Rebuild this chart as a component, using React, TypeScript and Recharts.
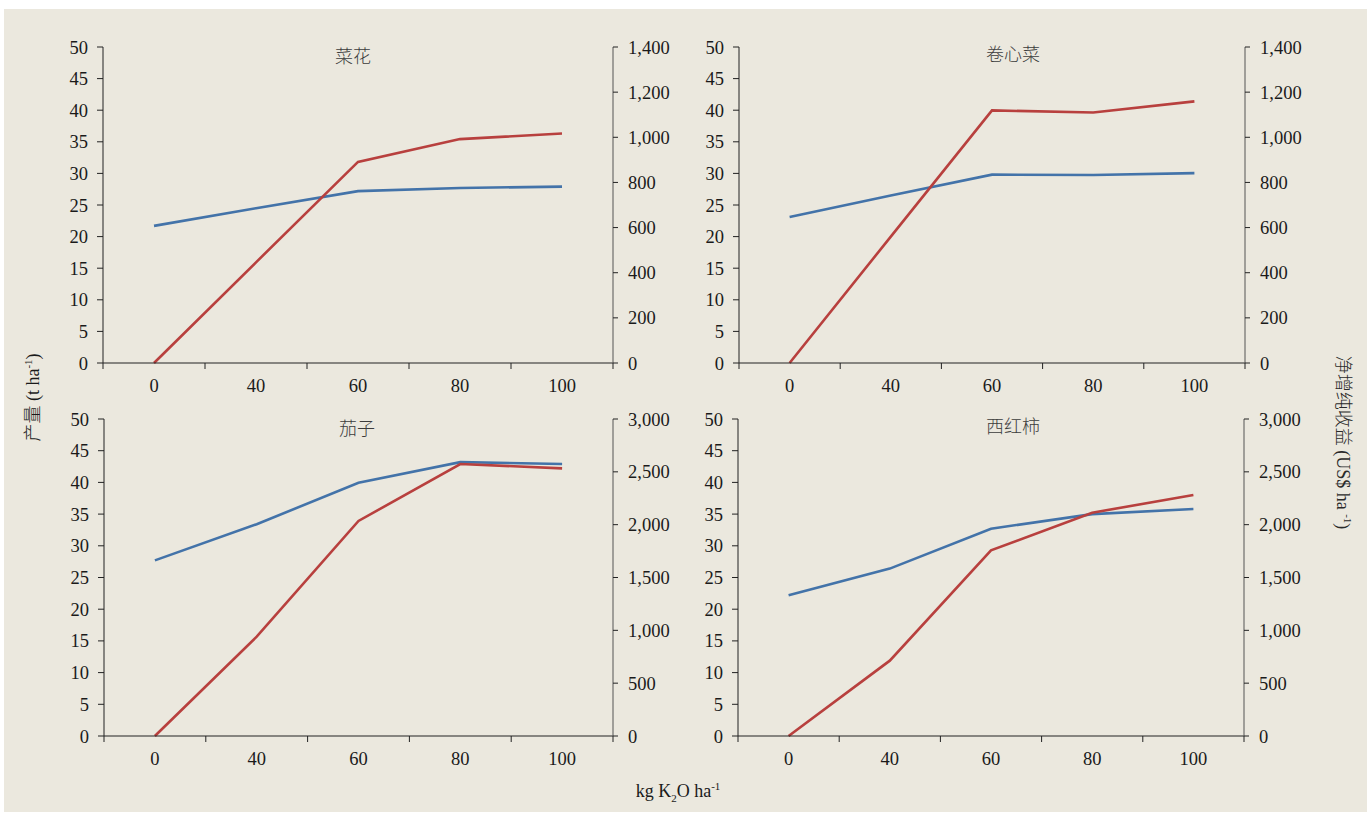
import { Line, LineChart, XAxis, YAxis } from "recharts"

// K2O rate categories
const doses = ["0", "40", "60", "80", "100"]

// yield (t/ha, left axis) and net added income (US$/ha, right axis)
const cauliflowerYield = [21.7, 24.5, 27.2, 27.7, 27.9]
const cauliflowerIncome = [0, 446, 891, 992, 1017]
const cabbageYield = [23.1, 26.5, 29.8, 29.75, 30.05]
const cabbageIncome = [0, 560, 1119, 1110, 1159]
const eggplantYield = [27.7, 33.4, 39.95, 43.2, 42.9]
const eggplantIncome = [0, 940, 2035, 2574, 2533]
const tomatoYield = [22.2, 26.4, 32.7, 35.0, 35.8]
const tomatoIncome = [0, 713, 1757, 2113, 2281]

const yieldTicks = [0, 5, 10, 15, 20, 25, 30, 35, 40, 45, 50]
const smallIncomeTicks = [0, 200, 400, 600, 800, 1000, 1200, 1400]
const largeIncomeTicks = [0, 500, 1000, 1500, 2000, 2500, 3000]

const BLUE = "#4373a9"
const RED = "#b8403e"
const BG = "#ebe8de"
const SERIF = "'Liberation Serif', 'Times New Roman', serif"
const CJK = "'Noto Sans CJK SC', sans-serif"
const X_GAP = 16

type Box = { left: number; top: number; right: number; bottom: number }

function DoseTick(props: any) {
  const { x, y, payload, index, band, count } = props
  const axisY = y - X_GAP
  return (
    <g>
      <line x1={x - band / 2} x2={x - band / 2} y1={axisY} y2={axisY + 6} stroke="#222" />
      {index === count - 1 && (
        <line x1={x + band / 2} x2={x + band / 2} y1={axisY} y2={axisY + 6} stroke="#222" />
      )}
      <text x={x} y={y} dy="0.71em" textAnchor="middle" fill="#1a1a1a" fontSize={18.5} fontFamily={SERIF}>
        {payload.value}
      </text>
    </g>
  )
}

type PanelProps = {
  title: string
  titleX: number
  titleY: number
  yields: number[]
  incomes: number[]
  incomeTicks: number[]
  box: Box
}

function Panel(props: PanelProps) {
  const { box, yields, incomes, incomeTicks } = props
  const leftW = 50
  const rightW = 70
  const topM = 10
  const xH = 40
  const plotW = box.right - box.left
  const band = plotW / doses.length
  const data = doses.map((d, i) => ({ dose: d, yield: yields[i], income: incomes[i] }))
  const tickStyle = { fill: "#1a1a1a", fontSize: 18.5, fontFamily: SERIF }
  return (
    <>
      <div style={{ position: "absolute", left: box.left - leftW, top: box.top - topM }}>
        <LineChart
          width={plotW + leftW + rightW}
          height={box.bottom - box.top + topM + xH}
          data={data}
          margin={{ top: topM, right: 0, left: 0, bottom: 0 }}
        >
          <XAxis
            dataKey="dose"
            scale="band"
            height={xH}
            interval={0}
            tickLine={false}
            tickSize={0}
            tickMargin={X_GAP}
            axisLine={{ stroke: "#222" }}
            tick={<DoseTick band={band} count={doses.length} />}
          />
          <YAxis
            yAxisId="left"
            width={leftW}
            domain={[0, 50]}
            ticks={yieldTicks}
            interval={0}
            tickSize={6}
            tickMargin={9}
            axisLine={{ stroke: "#222" }}
            tickLine={{ stroke: "#222" }}
            tick={tickStyle}
          />
          <YAxis
            yAxisId="right"
            orientation="right"
            width={rightW}
            domain={[0, incomeTicks[incomeTicks.length - 1]]}
            ticks={incomeTicks}
            interval={0}
            tickSize={5}
            tickMargin={10}
            axisLine={{ stroke: "#555" }}
            tickLine={{ stroke: "#222" }}
            tick={{ ...tickStyle, textAnchor: "start" }}
            tickFormatter={(v: number) => v.toLocaleString("en-US")}
          />
          <Line yAxisId="left" dataKey="yield" stroke={BLUE} strokeWidth={2.6} dot={false} isAnimationActive={false} />
          <Line yAxisId="right" dataKey="income" stroke={RED} strokeWidth={2.6} dot={false} isAnimationActive={false} />
        </LineChart>
      </div>
      <div
        style={{
          position: "absolute",
          left: props.titleX - 60,
          top: props.titleY - 12,
          width: 120,
          textAlign: "center",
          fontFamily: CJK,
          fontSize: 18,
          fontWeight: 300,
          lineHeight: "24px",
          color: "#3c3c3c",
        }}
      >
        {props.title}
      </div>
    </>
  )
}

export default function App() {
  return (
    <div style={{ position: "absolute", left: 0, top: 0, width: 1371, height: 815, background: "#fff" }}>
      <div style={{ position: "absolute", left: 4, top: 9, width: 1363, height: 803, background: BG }} />
      <Panel
        title="菜花"
        titleX={353}
        titleY={55}
        yields={cauliflowerYield}
        incomes={cauliflowerIncome}
        incomeTicks={smallIncomeTicks}
        box={{ left: 103, top: 47, right: 613, bottom: 363 }}
      />
      <Panel
        title="卷心菜"
        titleX={1013}
        titleY={53}
        yields={cabbageYield}
        incomes={cabbageIncome}
        incomeTicks={smallIncomeTicks}
        box={{ left: 739, top: 47, right: 1245, bottom: 363 }}
      />
      <Panel
        title="茄子"
        titleX={357}
        titleY={427}
        yields={eggplantYield}
        incomes={eggplantIncome}
        incomeTicks={largeIncomeTicks}
        box={{ left: 104, top: 419, right: 613, bottom: 736 }}
      />
      <Panel
        title="西红柿"
        titleX={1013}
        titleY={425}
        yields={tomatoYield}
        incomes={tomatoIncome}
        incomeTicks={largeIncomeTicks}
        box={{ left: 738, top: 419, right: 1244, bottom: 736 }}
      />
      <div
        style={{
          position: "absolute",
          left: 30 - 100,
          top: 395 - 12,
          width: 200,
          textAlign: "center",
          transform: "rotate(-90deg)",
          fontFamily: SERIF,
          fontSize: 18,
          lineHeight: "24px",
          color: "#1a1a1a",
          whiteSpace: "nowrap",
        }}
      >
        <span style={{ fontFamily: CJK, fontWeight: 300 }}>产量</span> (t ha<sup style={{ fontSize: 11 }}>-1</sup>)
      </div>
      <div
        style={{
          position: "absolute",
          left: 1345 - 120,
          top: 440 - 12,
          width: 240,
          textAlign: "center",
          transform: "rotate(90deg)",
          fontFamily: SERIF,
          fontSize: 18,
          lineHeight: "24px",
          color: "#2a2a2a",
          whiteSpace: "nowrap",
        }}
      >
        <span style={{ fontFamily: CJK, fontWeight: 300 }}>净增纯收益</span> (US$ ha <sup style={{ fontSize: 11 }}>-1</sup>)
      </div>
      <div
        style={{
          position: "absolute",
          left: 678 - 100,
          top: 786 - 12,
          width: 200,
          textAlign: "center",
          fontFamily: SERIF,
          fontSize: 18,
          lineHeight: "24px",
          color: "#1a1a1a",
          whiteSpace: "nowrap",
        }}
      >
        kg K<sub style={{ fontSize: 11 }}>2</sub>O ha<sup style={{ fontSize: 11 }}>-1</sup>
      </div>
    </div>
  )
}
